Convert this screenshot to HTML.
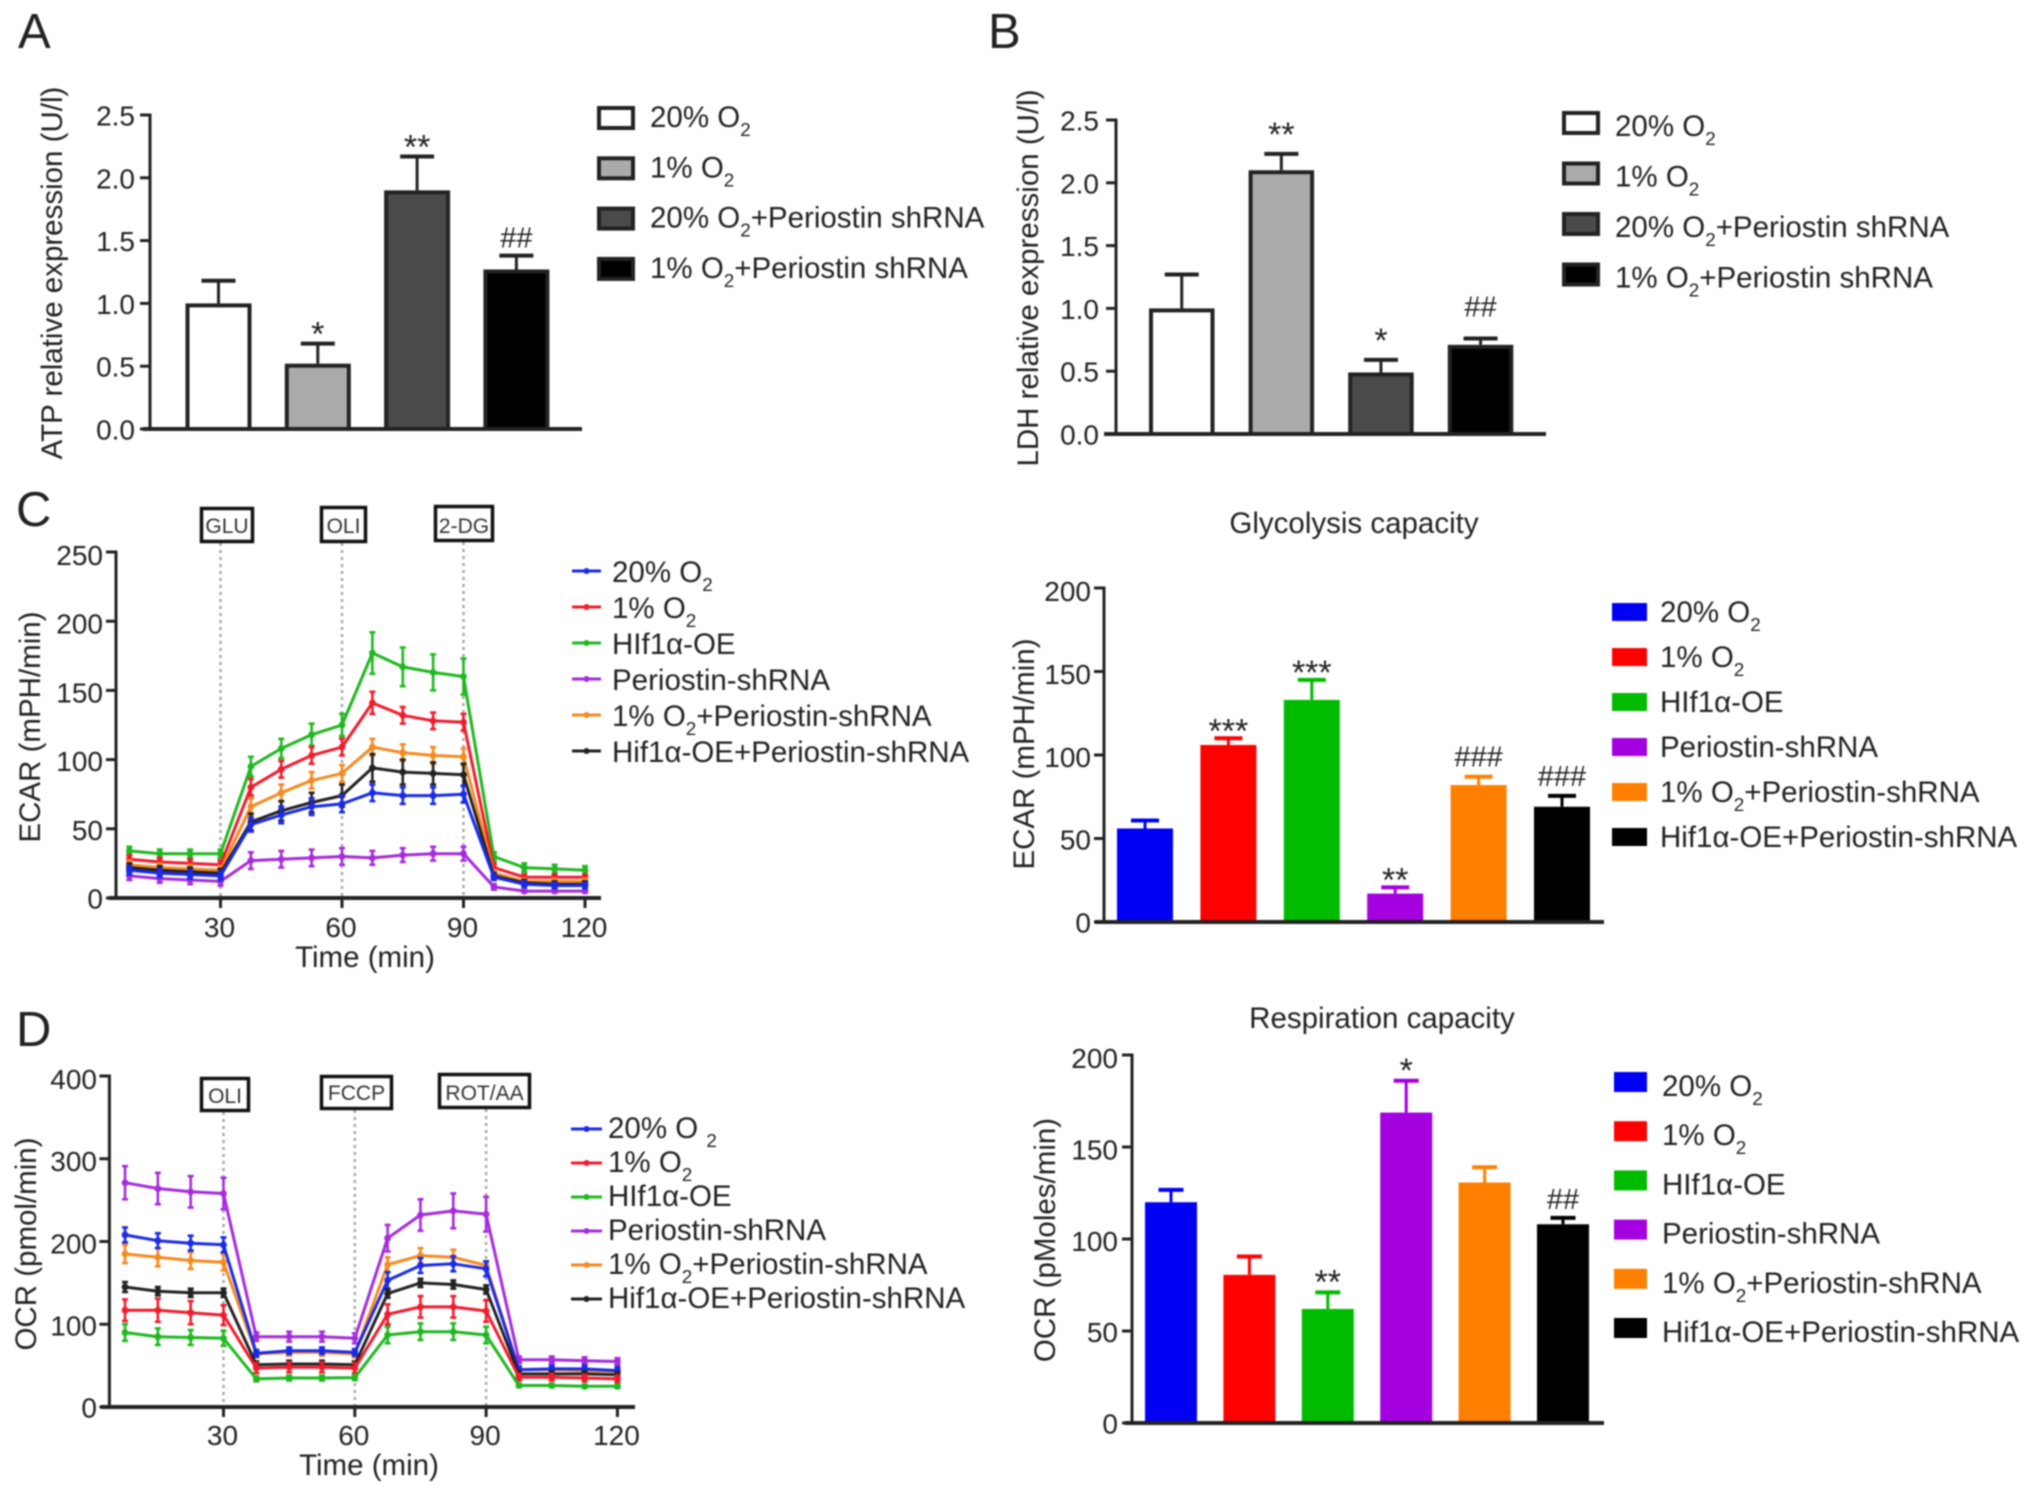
<!DOCTYPE html>
<html lang="en">
<head>
<meta charset="utf-8">
<title>Periostin metabolic figure</title>
<style>
html,body{margin:0;padding:0;background:#fff;width:2032px;height:1494px;overflow:hidden}
svg{display:block;filter:blur(0.7px)}
text{font-family:"Liberation Sans",Arial,sans-serif;fill:#222;white-space:pre}
</style>
</head>
<body>
<svg id="figure" xmlns="http://www.w3.org/2000/svg" width="2032" height="1494" viewBox="0 0 2032 1494">
  <rect x="0" y="0" width="2032" height="1494" fill="#fff"/>
  <text x="18" y="48" font-size="49">A</text>
  <text x="988" y="48" font-size="49">B</text>
  <text x="16" y="526" font-size="49">C</text>
  <text x="16" y="1046" font-size="49">D</text>
  <text x="1354" y="533" font-size="29.5" text-anchor="middle">Glycolysis capacity</text>
  <text x="1382" y="1028" font-size="29.5" text-anchor="middle">Respiration capacity</text>
</svg>
<script>
/* ---------- data: panel A ---------- */
const atpLabels = ['20% O_2', '1% O_2', '20% O_2+Periostin shRNA', '1% O_2+Periostin shRNA'];
const atpValues = [1.0, 0.52, 1.9, 1.27];
const atpErrors = [0.18, 0.16, 0.27, 0.11];
const atpMarks = ['', '*', '**', '##'];
const atpTicks = ['0.0', '0.5', '1.0', '1.5', '2.0', '2.5'];

/* ---------- data: panel B ---------- */
const ldhLabels = ['20% O_2', '1% O_2', '20% O_2+Periostin shRNA', '1% O_2+Periostin shRNA'];
const ldhValues = [1.0, 2.1, 0.49, 0.71];
const ldhErrors = [0.27, 0.13, 0.1, 0.05];
const ldhMarks = ['', '**', '*', '##'];
const ldhTicks = ['0.0', '0.5', '1.0', '1.5', '2.0', '2.5'];

/* ---------- data: glycolysis capacity ---------- */
const groupLabels = ['20% O_2', '1% O_2', 'HIf1\u03b1-OE', 'Periostin-shRNA', '1% O_2+Periostin-shRNA', 'Hif1\u03b1-OE+Periostin-shRNA'];
const glycoValues = [56, 106, 133, 17, 82, 69];
const glycoErrors = [4.8, 4, 12, 3.7, 5, 6.5];
const glycoMarks = ['', '***', '***', '**', '###', '###'];
const glycoTicks = ['0', '50', '100', '150', '200'];

/* ---------- data: respiration capacity ---------- */
const respValues = [120, 80.5, 62, 168.7, 130.7, 108];
const respErrors = [6.7, 10, 9, 17.3, 8.3, 3.5];
const respMarks = ['', '', '**', '*', '', '##'];
const respTicks = ['0', '50', '100', '150', '200'];

/* ---------- data: time courses ---------- */
const timePoints = [7.5, 15, 22.5, 30, 37.5, 45, 52.5, 60, 67.5, 75, 82.5, 90, 97.5, 105, 112.5, 120];
const timeTicks = [30, 60, 90, 120];

const ecarTicks = [0, 50, 100, 150, 200, 250];
const ecarBlue = [20, 18, 17, 16, 53, 60, 66, 68, 76, 74, 74, 75, 15, 10, 9, 9];
const ecarBlueErr = [3, 3, 3, 3, 5, 6, 6, 6, 6, 6, 6, 6, 2, 2, 2, 2];
const ecarRed = [28, 26, 25, 24, 80, 93, 103, 109, 141, 132, 128, 127, 22, 15, 15, 15];
const ecarRedErr = [3, 3, 3, 3, 6, 6, 6, 6, 8, 6, 6, 6, 3, 2, 2, 2];
const ecarGreen = [34, 32, 32, 32, 95, 108, 118, 125, 177, 167, 163, 160, 30, 22, 21, 20];
const ecarGreenErr = [3, 3, 3, 3, 7, 7, 8, 8, 15, 14, 13, 13, 3, 3, 3, 3];
const ecarPurple = [16, 14, 13, 12, 27, 28, 29, 30, 29, 31, 32, 32, 8, 5, 5, 5];
const ecarPurpleErr = [3, 3, 3, 3, 6, 6, 6, 6, 5, 5, 5, 5, 2, 1, 1, 1];
const ecarOrange = [24, 22, 21, 20, 66, 76, 85, 90, 109, 105, 103, 102, 18, 12, 12, 12];
const ecarOrangeErr = [3, 3, 3, 3, 6, 6, 6, 6, 6, 6, 6, 6, 2, 2, 2, 2];
const ecarBlack = [22, 20, 19, 18, 55, 63, 69, 74, 94, 91, 90, 89, 16, 11, 10, 10];
const ecarBlackErr = [3, 3, 3, 3, 6, 7, 7, 8, 10, 9, 8, 8, 2, 2, 2, 2];

const ocrTicks = [0, 100, 200, 300, 400];
const ocrBlue = [208, 201, 198, 196, 65, 68, 68, 66, 153, 171, 173, 167, 45, 46, 46, 44];
const ocrBlueErr = [9, 9, 9, 9, 4, 4, 4, 4, 10, 9, 9, 9, 4, 4, 4, 4];
const ocrRed = [117, 117, 114, 111, 47, 48, 48, 47, 112, 121, 121, 116, 36, 36, 35, 34];
const ocrRedErr = [13, 14, 14, 12, 6, 6, 6, 6, 12, 13, 13, 13, 4, 4, 4, 4];
const ocrGreen = [90, 85, 84, 83, 34, 35, 35, 35.5, 87, 91, 91, 87, 26, 26, 25, 25];
const ocrGreenErr = [10, 10, 9, 9, 3, 3, 3, 3, 10, 10, 10, 10, 2, 2, 2, 2];
const ocrPurple = [271, 264, 260, 258, 85, 85, 85, 83, 204, 232, 237, 233, 57, 57, 56, 55];
const ocrPurpleErr = [20, 19, 19, 19, 5, 6, 6, 6, 16, 19, 21, 21, 4, 4, 4, 4];
const ocrOrange = [185, 181, 177, 175, 64, 66, 66, 64, 172, 183, 181, 171, 45, 45, 44, 43];
const ocrOrangeErr = [11, 11, 10, 10, 4, 4, 4, 4, 9, 9, 9, 5, 3, 3, 3, 3];
const ocrBlack = [145, 140, 138, 138, 51, 52, 52, 51, 137, 150, 148, 142, 40, 40, 40, 39];
const ocrBlackErr = [6, 5, 5, 5, 4, 4, 4, 4, 5, 5, 5, 5, 3, 3, 3, 3];

/* ---------- drawing helpers ---------- */
const NS = 'http://www.w3.org/2000/svg';
const root = document.getElementById('figure');
const INK = '#222';
const GRAYS = ['#fff', '#aaa', '#4a4a4a', '#000'];
const SOLID = ['#0000f5', '#ff0000', '#00bb00', '#a400e0', '#ff8000', '#000'];
const LINE = ['#1a2ae8', '#f01c2c', '#1fb81f', '#a52cdc', '#f58a20', '#222'];

function mk(tag, attrs, parent) {
  const n = document.createElementNS(NS, tag);
  for (const k in attrs) n.setAttribute(k, attrs[k]);
  (parent || root).appendChild(n);
  return n;
}
function seg(parent, x1, y1, x2, y2, color, w) {
  return mk('line', {x1: x1, y1: y1, x2: x2, y2: y2, stroke: color, 'stroke-width': w}, parent);
}
function label(parent, x, y, str, size, anchor) {
  const t = mk('text', {x: x, y: y, 'font-size': size, 'text-anchor': anchor || 'start'}, parent);
  t.textContent = str;
  return t;
}
function richLabel(parent, x, y, str, size) {
  const t = mk('text', {x: x, y: y, 'font-size': size}, parent);
  const parts = str.split('_2');
  parts.forEach(function (p, i) {
    if (i > 0) {
      const sub = mk('tspan', {dy: 9, 'font-size': size * 0.64}, t);
      sub.textContent = '2';
    }
    const run = mk('tspan', i > 0 ? {dy: -9} : {}, t);
    run.textContent = p;
  });
  return t;
}
function vTitle(parent, x, yMid, str, size) {
  return mk('text', {x: x, y: yMid, 'font-size': size, 'text-anchor': 'middle',
    transform: 'rotate(-90 ' + x + ' ' + yMid + ')'}, parent);
}

function drawAxes(g, p, ticks) {
  const yAxis = seg(g, p.axisX, p.y0 + 1.5, p.axisX, p.yTop - 1.5, INK, 3);
  
  
  const xAxis = seg(g, p.xAxisFrom, p.y0, p.xAxisTo, p.y0, INK, 4);
  
  
  const n = ticks.length - 1;
  ticks.forEach(function (tick, i) {
    const y = p.y0 - (p.y0 - p.yTop) * i / n;
    const mark = seg(g, p.axisX - 10, y, p.axisX, y, INK, 3);
    
    
    const tl = label(g, p.tickRight, y + 10.5 + (p.tickDrift || 0) * i / n, String(tick), 28, 'end');
    
    
  });
  const yt = vTitle(g, p.titleX, p.titleY, '', 29.5);
  yt.textContent = p.yTitle;
  
  
}

function drawBarPanel(p, labels, values, errors, marks, ticks) {
  const g = mk('g', {});
  
  
  const yOf = function (v) { return p.y0 - (v / p.vmax) * (p.y0 - p.yTop); };
  values.forEach(function (v, i) {
    const left = p.barStart + i * p.barStep;
    const cx = left + p.barW / 2;
    const top = yOf(v);
    const errTop = yOf(v + errors[i]);
    const color = p.outlined ? GRAYS[i] : SOLID[i];
    const inset = p.outlined ? 2 : 0;
    const stem = seg(g, cx, top, cx, errTop, p.outlined ? INK : color, 3);
    
    
    const cap = seg(g, cx - p.capW / 2, errTop, cx + p.capW / 2, errTop, p.outlined ? INK : color, 4);
    
    
    const bar = mk('rect', {x: left + inset, y: top + inset, width: p.barW - 2 * inset, height: p.y0 - top - inset, fill: color}, g);
    if (p.outlined) { bar.setAttribute('stroke', INK); bar.setAttribute('stroke-width', 4); }
    
    
    if (marks[i]) {
      const isStar = marks[i].charAt(0) === '*';
      const y = isStar ? errTop - p.starGap + 0.5 * 34 : errTop - p.hashGap;
      const sig = label(g, cx, y, marks[i], isStar ? 34 : 29, 'middle');
      
      
    }
  });
  drawAxes(g, p, ticks);
  labels.forEach(function (txt, i) {
    const ly = p.legTop + i * p.legStep;
    const sw = mk('rect', {x: p.legX + (p.outlined ? 2 : 0), y: ly + (p.outlined ? 2 : 0),
      width: p.legW - (p.outlined ? 4 : 0), height: p.legH - (p.outlined ? 4 : 0),
      fill: p.outlined ? GRAYS[i] : SOLID[i]}, g);
    if (p.outlined) { sw.setAttribute('stroke', INK); sw.setAttribute('stroke-width', 4); }
    
    
    const lt = richLabel(g, p.legTextX, p.legBase + i * p.legStep, txt, 29.5);
    
    
  });
}

function drawLinePanel(p, series, errs, ticks, legendTexts) {
  const g = mk('g', {});
  
  
  const xOf = function (t) { return p.x30 + (t - 30) * p.xPerMin; };
  const yOf = function (v) { return p.y0 - (v / p.vmax) * (p.y0 - p.yTop); };

  p.events.forEach(function (ev) {
    const x = xOf(ev.t);
    const dot = seg(g, x, ev.y + ev.h, x, p.y0, '#a8a8a8', 2.5);
    dot.setAttribute('stroke-dasharray', '3 4');
    
    
    const box = mk('rect', {x: ev.x + 1.5, y: ev.y + 1.5, width: ev.w - 3, height: ev.h - 3, fill: '#fff', stroke: '#111', 'stroke-width': 3.5}, g);
    
    
    const tx = label(g, ev.x + ev.w / 2, ev.base, ev.text, 21, 'middle');
    tx.setAttribute('style', 'fill:#333');
    
    
  });

  drawAxes(g, p, ticks);
  timeTicks.forEach(function (t) {
    const x = xOf(t);
    const mk1 = seg(g, x, p.y0, x, p.y0 + 10, INK, 3);
    
    
    const tl = label(g, x - 1, p.xTickBase, String(t), 28, 'middle');
    
    
  });
  const xt = label(g, p.xTitleX, p.xTitleBase, 'Time (min)', 29.5, 'middle');
  
  

  p.drawOrder.forEach(function (s) {
    const vals = series[s];
    const err = errs[s];
    const col = LINE[s];
    let d = '';
    vals.forEach(function (v, i) {
      const x = xOf(timePoints[i]);
      const y = yOf(v);
      d += (i ? 'L' : 'M') + x.toFixed(1) + ' ' + y.toFixed(1);
      const hi = yOf(v + err[i]);
      const lo = yOf(v - err[i]);
      const eb = seg(g, x, hi, x, lo, col, 2.6);
      
      
      const capA = seg(g, x - 3, hi, x + 3, hi, col, 2.6);
      
      
      const capB = seg(g, x - 3, lo, x + 3, lo, col, 2.6);
      
      
      const pt = mk('circle', {cx: x, cy: y, r: 3.4, fill: col}, g);
      
      
    });
    const ln = mk('path', {d: d, fill: 'none', stroke: col, 'stroke-width': 3, 'stroke-linejoin': 'round'}, g);
    
    
  });

  legendTexts.forEach(function (txt, i) {
    const ly = p.legLineY + i * p.legStep;
    const l = seg(g, p.legX1, ly, p.legX2, ly, LINE[i], 3);
    
    
    const c = mk('circle', {cx: (p.legX1 + p.legX2) / 2, cy: ly, r: 3, fill: LINE[i]}, g);
    
    
    const t = richLabel(g, p.legTextX, p.legBase + i * p.legStep, txt, 29.5);
    
    
  });
}

/* ---------- panels ---------- */
drawBarPanel({id: 'atp', outlined: true, axisX: 150, y0: 429, yTop: 115, vmax: 2.5, xAxisFrom: 143, xAxisTo: 582,
  tickRight: 135, barStart: 185.5, barStep: 99.3, barW: 66, capW: 34, starGap: 15, hashGap: 8,
  titleX: 62, titleY: 273, yTitle: 'ATP relative expression (U/l)',
  legX: 597, legTop: 106, legW: 38, legH: 24, legStep: 50.3, legTextX: 650, legBase: 127},
  atpLabels, atpValues, atpErrors, atpMarks, atpTicks);

drawBarPanel({id: 'ldh', outlined: true, axisX: 1116, y0: 434, yTop: 120, vmax: 2.5, xAxisFrom: 1104, xAxisTo: 1546,
  tickRight: 1099, barStart: 1149, barStep: 99.6, barW: 65.5, capW: 34, starGap: 25, hashGap: 22,
  titleX: 1038, titleY: 278, yTitle: 'LDH relative expression (U/l)',
  legX: 1562, legTop: 111, legW: 38, legH: 24, legStep: 50.5, legTextX: 1615, legBase: 136},
  ldhLabels, ldhValues, ldhErrors, ldhMarks, ldhTicks);

drawBarPanel({id: 'glycolysis', outlined: false, axisX: 1104, y0: 922, yTop: 588, vmax: 200, xAxisFrom: 1095, xAxisTo: 1604,
  tickRight: 1091, tickDrift: 2.5, barStart: 1117, barStep: 83.4, barW: 56, capW: 28, starGap: 13, hashGap: 10,
  titleX: 1034, titleY: 754, yTitle: 'ECAR (mPH/min)',
  legX: 1612, legTop: 603, legW: 35, legH: 18, legStep: 45, legTextX: 1660, legBase: 622},
  groupLabels, glycoValues, glycoErrors, glycoMarks, glycoTicks);

drawBarPanel({id: 'respiration', outlined: false, axisX: 1132, y0: 1423, yTop: 1055, vmax: 200, xAxisFrom: 1125, xAxisTo: 1604,
  tickRight: 1118, tickDrift: 2.5, barStart: 1145, barStep: 78.4, barW: 52, capW: 25, starGap: 16, hashGap: 9,
  titleX: 1055, titleY: 1240, yTitle: 'OCR (pMoles/min)',
  legX: 1614, legTop: 1072, legW: 33, legH: 20, legStep: 49.2, legTextX: 1662, legBase: 1096},
  groupLabels, respValues, respErrors, respMarks, respTicks);

drawLinePanel({id: 'ecar', axisX: 116, y0: 898, yTop: 552, vmax: 250, xAxisFrom: 109, xAxisTo: 601,
  x30: 220.5, xPerMin: 4.05, tickRight: 103, tickDrift: 2.5, titleX: 40, titleY: 727, yTitle: 'ECAR (mPH/min)',
  xTickBase: 937, xTitleX: 365, xTitleBase: 967, drawOrder: [3, 2, 1, 4, 5, 0],
  events: [
    {t: 30, x: 200, y: 507, w: 54, h: 36, text: 'GLU', base: 533},
    {t: 60, x: 320, y: 506, w: 47, h: 37, text: 'OLI', base: 533},
    {t: 90, x: 434, y: 505, w: 60, h: 37, text: '2-DG', base: 533}],
  legX1: 572, legX2: 601, legLineY: 571, legStep: 36, legTextX: 612, legBase: 582},
  [ecarBlue, ecarRed, ecarGreen, ecarPurple, ecarOrange, ecarBlack],
  [ecarBlueErr, ecarRedErr, ecarGreenErr, ecarPurpleErr, ecarOrangeErr, ecarBlackErr],
  ecarTicks, groupLabels);

drawLinePanel({id: 'ocr', axisX: 109.4, y0: 1407, yTop: 1076, vmax: 400, xAxisFrom: 101, xAxisTo: 635,
  x30: 223.5, xPerMin: 4.377, tickRight: 97, tickDrift: 2.5, titleX: 36, titleY: 1244, yTitle: 'OCR (pmol/min)',
  xTickBase: 1445, xTitleX: 369, xTitleBase: 1475, drawOrder: [3, 4, 0, 5, 1, 2],
  events: [
    {t: 30, x: 200, y: 1077, w: 50, h: 35, text: 'OLI', base: 1103},
    {t: 60, x: 320, y: 1075, w: 73, h: 35, text: 'FCCP', base: 1100},
    {t: 90, x: 438, y: 1073, w: 93, h: 36, text: 'ROT/AA', base: 1100}],
  legX1: 571, legX2: 602, legLineY: 1129, legStep: 34, legTextX: 608, legBase: 1138},
  [ocrBlue, ocrRed, ocrGreen, ocrPurple, ocrOrange, ocrBlack],
  [ocrBlueErr, ocrRedErr, ocrGreenErr, ocrPurpleErr, ocrOrangeErr, ocrBlackErr],
  ocrTicks, ['20% O _2'].concat(groupLabels.slice(1)));
</script>
</body>
</html>
